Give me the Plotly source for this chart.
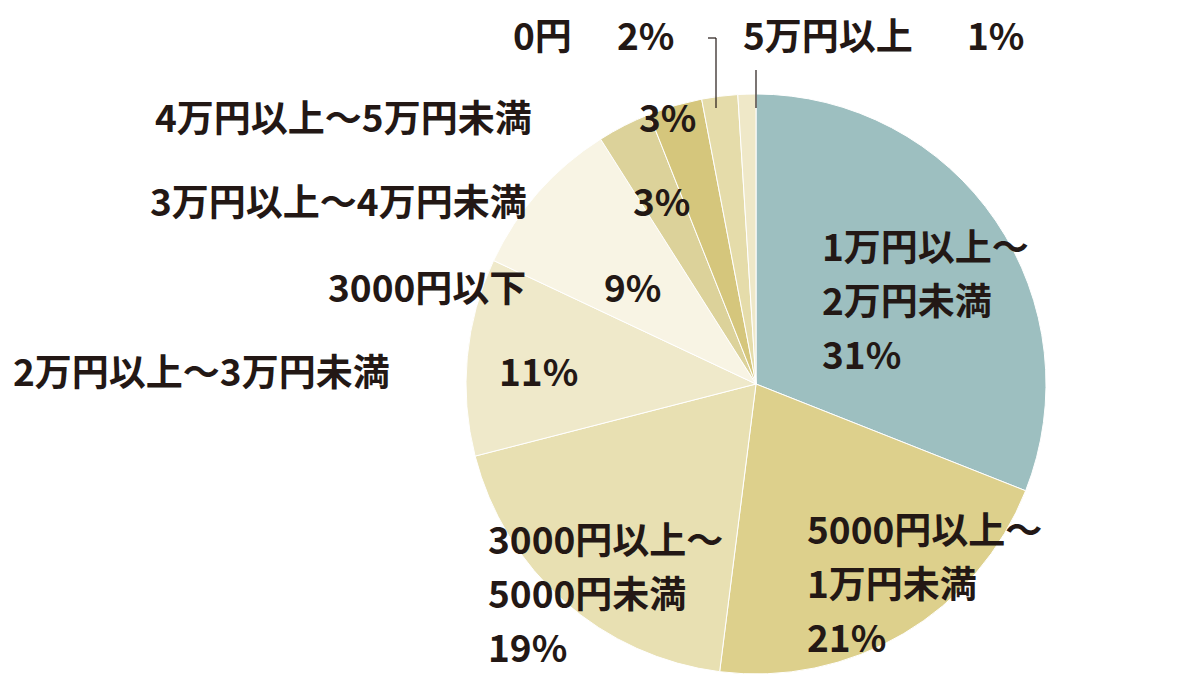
import plotly.graph_objects as go

W, H = 1200, 674

categories = ["1万円以上～2万円未満", "5000円以上～1万円未満", "3000円以上～5000円未満",
              "2万円以上～3万円未満", "3000円以下", "3万円以上～4万円未満",
              "4万円以上～5万円未満", "0円", "5万円以上"]
values = [31, 21, 19, 11, 9, 3, 3, 2, 1]
colors = ["#9dbfc0", "#ddd08c", "#e8e0b2", "#efe9ca", "#f8f4e4",
          "#dcd29a", "#d5c67c", "#e5dcaa", "#efe8c8"]

FONT = dict(family="Noto Sans CJK JP", size=37, color="#231815", weight="bold")

def px(x, y):
    return x / W, 1 - y / H

fig = go.Figure(go.Pie(
    labels=categories, values=values, sort=False, direction="clockwise",
    rotation=0, marker=dict(colors=colors, line=dict(color="white", width=1)),
    textinfo="none", hoverinfo="label+percent",
    domain=dict(x=[458 / W, 1038 / W], y=[8 / H, 588 / H]),
))

# (name, name_x, pct, pct_right_x, y)
single = [
    ("0円", 503, "2%", 668, 26),
    ("5万円以上", 733, "1%", 1018, 26),
    ("4万円以上～5万円未満", 145, "3%", 690, 108),
    ("3万円以上～4万円未満", 140, "3%", 684, 192),
    ("3000円以下", 318, "9%", 655, 278),
    ("2万円以上～3万円未満", 3, "11%", 572, 362),
]
ann = []
for name, nx, pct, prx, y in single:
    x0, y0 = px(nx, y)
    ann.append(dict(text=name, x=x0, y=y0, xanchor="left", yanchor="middle"))
    x1, y1 = px(prx, y)
    ann.append(dict(text=pct, x=x1, y=y1, xanchor="right", yanchor="middle"))

multi = [
    (812, 237, ["1万円以上～", "2万円未満", "31%"]),
    (797, 520, ["5000円以上～", "1万円未満", "21%"]),
    (478, 530, ["3000円以上～", "5000円未満", "19%"]),
]
for x, y, lines in multi:
    for i, t in enumerate(lines):
        xx, yy = px(x, y + i * 54)
        ann.append(dict(text=t, x=xx, y=yy, xanchor="left", yanchor="middle"))

for a in ann:
    a.update(xref="paper", yref="paper", showarrow=False, font=FONT)

line = dict(color="#231815", width=1.2)
shapes = []
for (xa, ya), (xb, yb) in [((700, 30), (708, 30)), ((708, 30), (708, 100)),
                           ((748, 62), (748, 100))]:
    p0, p1 = px(xa, ya), px(xb, yb)
    shapes.append(dict(type="line", xref="paper", yref="paper",
                       x0=p0[0], y0=p0[1], x1=p1[0], y1=p1[1], line=line))

fig.update_layout(width=W, height=H, margin=dict(l=0, r=0, t=0, b=0),
                  paper_bgcolor="white", showlegend=False,
                  annotations=ann, shapes=shapes)
fig.write_html("out.html")
